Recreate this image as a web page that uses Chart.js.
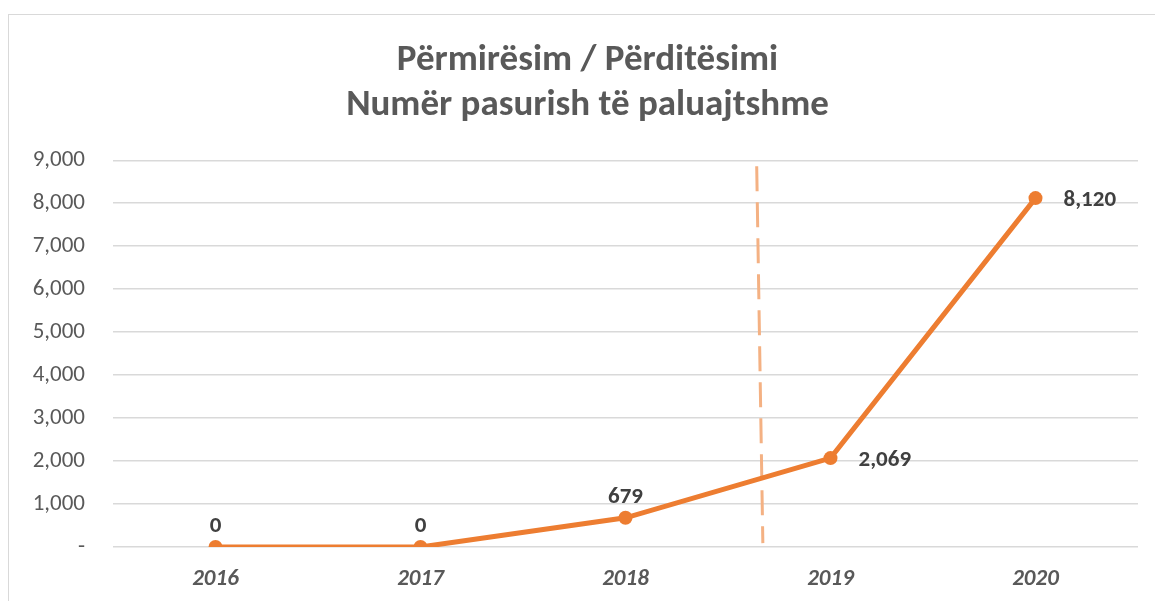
<!DOCTYPE html>
<html>
<head>
<meta charset="utf-8">
<script src="https://cdn.jsdelivr.net/npm/chart.js@4"></script>
<style>
    html, body { margin: 0; padding: 0; background: #fff; overflow: hidden; }
    #frame {
        position: absolute; left: 8px; top: 14px; width: 1160px; height: 600px;
        border-left: 1px solid #d9d9d9; border-top: 1px solid #d9d9d9;
    }
    #wrap { position: absolute; left: 0; top: 0; width: 1146px; height: 586px; }
</style>
</head>
<body>
<div id="frame"><div id="wrap"><canvas id="grafik"></canvas></div></div>
<script>
"use strict";

// Vitet (kategoritë)
const years = ['2016', '2017', '2018', '2019', '2020'];

// Numri i pasurive të përmirësuara / përditësuara
const assets = [0, 0, 679, 2069, 8120];

// Ku vendoset etiketa e vlerës për secilën pikë
const labelSide = ['top', 'top', 'top', 'right', 'right'];

// Etiketat e boshtit Y
const yTicks = [0, 1000, 2000, 3000, 4000, 5000, 6000, 7000, 8000, 9000];

// Vija e ndërprerë mes 2018 dhe 2019 (indeksi i kategorisë, vlera)
const dividerX = [2.64, 2.67];
const dividerY = [8860, 90];

const fontStack = "Carlito, Calibri, Lato, 'Open Sans', sans-serif";

const numFmt = v => v === 0 ? '-' : v.toLocaleString('en-US');

// Zhvendos titullin pak djathtas, si në Excel (qendra e gjithë kutisë)
const titleShift = {
    id: 'titleShift',
    afterLayout(chart) {
        if (chart.titleBlock) {
            chart.titleBlock.left += 9;
            chart.titleBlock.right += 9;
        }
    }
};

// Vija vertikale e ndërprerë
const dividerPlugin = {
    id: 'divider',
    beforeDatasetsDraw(chart) {
        const { ctx, scales: { x, y } } = chart;
        ctx.save();
        ctx.strokeStyle = '#f4b183';
        ctx.lineWidth = 3;
        ctx.setLineDash([25, 11]);
        ctx.beginPath();
        ctx.moveTo(x.getPixelForValue(dividerX[0]), y.getPixelForValue(dividerY[0]));
        ctx.lineTo(x.getPixelForValue(dividerX[1]), y.getPixelForValue(dividerY[1]));
        ctx.stroke();
        ctx.restore();
    }
};

// Etiketat e vlerave pranë pikave
const valueLabels = {
    id: 'valueLabels',
    afterDatasetsDraw(chart) {
        const { ctx } = chart;
        const meta = chart.getDatasetMeta(0);
        ctx.save();
        ctx.font = 'bold 23px ' + fontStack;
        ctx.fillStyle = '#404040';
        meta.data.forEach((pt, i) => {
            const txt = assets[i].toLocaleString('en-US');
            ctx.textBaseline = 'middle';
            if (labelSide[i] === 'right') {
                ctx.textAlign = 'left';
                ctx.fillText(txt, pt.x + 28, pt.y + 2);
            } else {
                ctx.textAlign = 'center';
                ctx.fillText(txt, pt.x, pt.y - 21);
            }
        });
        ctx.restore();
    }
};

new Chart(document.getElementById('grafik'), {
    type: 'line',
    data: {
        labels: years,
        datasets: [{
            label: 'Numër pasurish të paluajtshme',
            data: assets,
            borderColor: '#ed7d31',
            backgroundColor: '#ed7d31',
            borderWidth: 5,
            pointRadius: 7,
            pointBorderWidth: 0,
            pointBackgroundColor: '#ed7d31',
            tension: 0
        }]
    },
    options: {
        responsive: true,
        maintainAspectRatio: false,
        animation: false,
        layout: { padding: { left: 10, right: 17, top: 0, bottom: 0 } },
        scales: {
            x: {
                offset: true,
                grid: { display: false, drawTicks: false },
                border: { display: false },
                ticks: {
                    padding: 18,
                    color: '#595959',
                    font: { family: fontStack, size: 23, weight: 'bold', style: 'italic' }
                },
                afterFit(scale) { scale.height = 54; }
            },
            y: {
                min: 0,
                max: 9000,
                afterBuildTicks(scale) { scale.ticks = yTicks.map(v => ({ value: v })); },
                grid: { color: '#d9d9d9', lineWidth: 1.5, drawTicks: false },
                border: { display: false },
                ticks: {
                    padding: 28,
                    color: '#595959',
                    font: { family: fontStack, size: 23 },
                    callback: v => numFmt(v)
                },
                afterFit(scale) { scale.width = 94; }
            }
        },
        plugins: {
            legend: { display: false },
            tooltip: { enabled: false },
            title: {
                display: true,
                text: ['Përmirësim / Përditësimi', 'Numër pasurish të paluajtshme'],
                color: '#595959',
                font: { family: fontStack, size: 37, weight: 'bold', lineHeight: 1.22 },
                padding: { top: 23, bottom: 32 }
            }
        }
    },
    plugins: [titleShift, dividerPlugin, valueLabels]
});
</script>
</body>
</html>
